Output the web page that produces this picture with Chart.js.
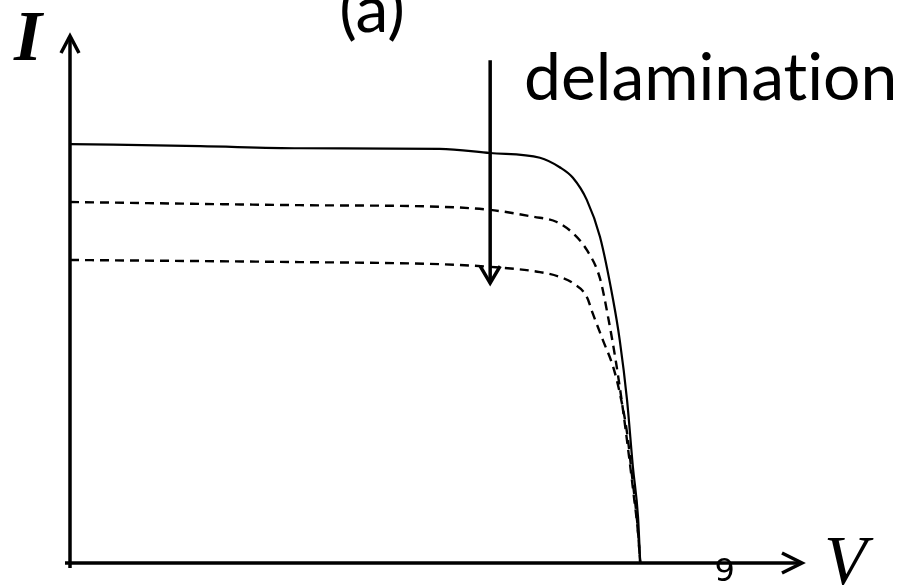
<!DOCTYPE html>
<html>
<head>
<meta charset="utf-8">
<title>I-V curves, delamination</title>
<script src="https://cdn.jsdelivr.net/npm/chart.js"></script>
<style>
  html, body { margin: 0; padding: 0; background: #fff; }
  #wrap { width: 898px; height: 586px; position: relative; }
</style>
</head>
<body>
<div id="wrap"><canvas id="ivChart"></canvas></div>
<script>
// healthy module (solid)
const vSolid = [0, 1.78, 3.14, 5.05, 5.74, 6.42, 6.69, 6.87, 7.06, 7.24, 7.42, 7.51, 7.61, 7.69, 7.76, 7.79];
const iSolid = [7.95, 7.91, 7.87, 7.86, 7.78, 7.69, 7.51, 7.31, 6.89, 6.19, 4.99, 4.23, 3.09, 1.82, 0.87, 0];
// first delaminated curve
const vDash1 = [0, 3.14, 5.05, 5.74, 6.33, 6.65, 6.87, 7.06, 7.24, 7.36, 7.46, 7.55, 7.63, 7.70, 7.76, 7.79];
const iDash1 = [6.85, 6.79, 6.76, 6.70, 6.57, 6.47, 6.26, 5.94, 5.40, 4.60, 3.80, 2.95, 2.10, 1.30, 0.57, 0];
// second delaminated curve
const vDash2 = [0, 3.14, 5.05, 5.74, 6.42, 6.69, 6.87, 7.06, 7.14, 7.28, 7.42, 7.51, 7.61, 7.68, 7.75, 7.79];
const iDash2 = [5.75, 5.71, 5.67, 5.62, 5.52, 5.43, 5.31, 5.05, 4.74, 4.23, 3.72, 3.23, 2.47, 1.63, 0.76, 0];

const xTicks = [9];
// delamination arrow: V position, top and tip current
const arrowV = 5.74;
const arrowTop = 9.54;
const arrowTip = 5.31;

const toPts = (vs, is) => vs.map((v, k) => ({ x: v, y: is[k] }));

function arrowHead(ctx, tipX, tipY, dx, dy, len, half) {
  // dx,dy: unit direction the arrow points to
  const bx = tipX - dx * len, by = tipY - dy * len;
  ctx.beginPath();
  ctx.moveTo(bx - dy * half, by + dx * half);
  ctx.lineTo(tipX, tipY);
  ctx.lineTo(bx + dy * half, by - dx * half);
  ctx.stroke();
}

const axesAndLabels = {
  id: 'axesAndLabels',
  afterDatasetsDraw(chart) {
    const { ctx, chartArea, scales } = chart;
    const x0 = scales.x.getPixelForValue(0);
    const y0 = scales.y.getPixelForValue(0);
    ctx.save();
    ctx.strokeStyle = '#000';
    ctx.fillStyle = '#000';
    ctx.lineWidth = 3.5;

    // I axis
    ctx.beginPath();
    ctx.moveTo(x0, y0 + 5);
    ctx.lineTo(x0, chartArea.top);
    ctx.stroke();
    arrowHead(ctx, x0, chartArea.top, 0, -1, 17, 9);

    // V axis
    ctx.beginPath();
    ctx.moveTo(x0 - 5, y0);
    ctx.lineTo(chartArea.right, y0);
    ctx.stroke();
    arrowHead(ctx, chartArea.right, y0, 1, 0, 20, 10);

    // tick label sitting on the V axis
    ctx.font = 'normal 400 32px DejaVu Sans, Arial, sans-serif';
    ctx.textAlign = 'center';
    ctx.textBaseline = 'bottom';
    xTicks.forEach(v => ctx.fillText(String(v), scales.x.getPixelForValue(v) - 4, y0 + 26));

    // delamination arrow
    const ax = scales.x.getPixelForValue(arrowV);
    const aTop = scales.y.getPixelForValue(arrowTop);
    const aTip = scales.y.getPixelForValue(arrowTip);
    ctx.beginPath();
    ctx.moveTo(ax, aTop);
    ctx.lineTo(ax, aTip);
    ctx.stroke();
    arrowHead(ctx, ax, aTip, 0, 1, 17, 10);

    // labels
    ctx.textBaseline = 'alphabetic';
    ctx.textAlign = 'left';
    ctx.font = 'italic bold 72px "Liberation Serif", serif';
    ctx.fillText('I', 14, 60);
    ctx.font = 'italic 70px "Liberation Serif", serif';
    ctx.fillText('V', 824, 584);

    ctx.font = '66px Lato, sans-serif';
    ctx.textAlign = 'center';
    ctx.fillText('(a)', 372, 32);
    ctx.textAlign = 'left';
    // ZWNJ keeps "t" and "i" as separate glyphs
    ctx.fillText('delaminat\u200Cion', 524, 100);
    ctx.restore();
  }
};

new Chart(document.getElementById('ivChart'), {
  type: 'scatter',
  data: {
    datasets: [
      { data: toPts(vSolid, iSolid), borderColor: '#000', borderWidth: 2.2, showLine: true, pointRadius: 0, cubicInterpolationMode: 'monotone' },
      { data: toPts(vDash1, iDash1), borderColor: '#000', borderWidth: 2.4, borderDash: [9, 6], showLine: true, pointRadius: 0, cubicInterpolationMode: 'monotone' },
      { data: toPts(vDash2, iDash2), borderColor: '#000', borderWidth: 2.4, borderDash: [9, 6], showLine: true, pointRadius: 0, cubicInterpolationMode: 'monotone' }
    ]
  },
  options: {
    responsive: true,
    maintainAspectRatio: false,
    animation: false,
    layout: { padding: { left: 70, right: 96, top: 36, bottom: 23 } },
    plugins: { legend: { display: false }, tooltip: { enabled: false } },
    scales: {
      x: { type: 'linear', min: 0, max: 10, display: false },
      y: { type: 'linear', min: 0, max: 10, display: false }
    }
  },
  plugins: [axesAndLabels]
});
</script>
</body>
</html>
